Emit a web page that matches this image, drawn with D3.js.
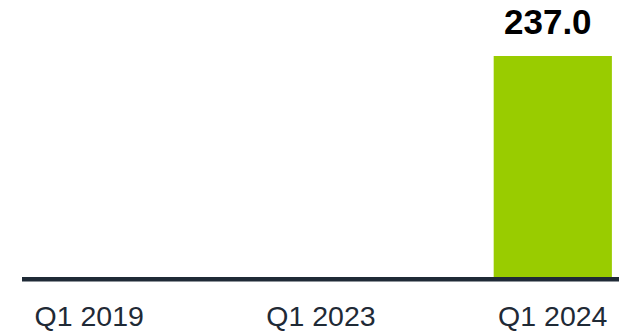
<!DOCTYPE html>
<html>
<head>
<meta charset="utf-8">
<script src="https://cdn.jsdelivr.net/npm/d3@7"></script>
<style>
  html, body { margin: 0; padding: 0; background: #ffffff; }
  svg { display: block; }
</style>
</head>
<body>
<svg id="chart" width="628" height="332"></svg>
<script>
// Quarterly values; quarters without a reported figure are null
const categories = ["Q1 2019", "Q1 2023", "Q1 2024"];
const values = [null, null, 237.0];
const valueLabels = ["", "", "237.0"];

const svg = d3.select("#chart");
const baseY = 277;

const x = d3.scaleBand()
  .domain(categories)
  .range([22, 620])
  .paddingInner(0.49)
  .paddingOuter(0.035);

const y = d3.scaleLinear()
  .domain([0, 237])
  .range([baseY, 56]);

const data = categories.map((c, i) => ({ cat: c, value: values[i], label: valueLabels[i] }));

// bars
svg.append("g")
  .selectAll("rect")
  .data(data.filter(d => d.value != null))
  .join("rect")
  .attr("x", d => x(d.cat))
  .attr("width", x.bandwidth())
  .attr("y", d => y(d.value))
  .attr("height", d => y(0) - y(d.value))
  .attr("fill", "#99cc00");

// value labels, set slightly left of the bar centre
svg.append("g")
  .selectAll("text")
  .data(data.filter(d => d.value != null))
  .join("text")
  .attr("x", d => x(d.cat) + x.bandwidth() / 2 - 5)
  .attr("y", 34)
  .attr("text-anchor", "middle")
  .attr("font-family", "Liberation Sans, Arial, sans-serif")
  .attr("font-weight", "bold")
  .attr("font-size", 35)
  .attr("fill", "#000000")
  .text(d => d.label);

// baseline axis
const axis = d3.axisBottom(x).tickSize(0).tickPadding(0);
const gAxis = svg.append("g")
  .attr("transform", `translate(0,${baseY})`)
  .call(axis);
gAxis.select(".domain").remove();
gAxis.append("rect")
  .attr("x", 22)
  .attr("y", 0)
  .attr("width", 597)
  .attr("height", 4.5)
  .attr("fill", "#1f2a36");
gAxis.selectAll(".tick text")
  .attr("y", 49)
  .attr("dy", 0)
  .attr("font-family", "Liberation Sans, Arial, sans-serif")
  .attr("font-size", 28.5)
  .attr("fill", "#1f2a36");
</script>
</body>
</html>
